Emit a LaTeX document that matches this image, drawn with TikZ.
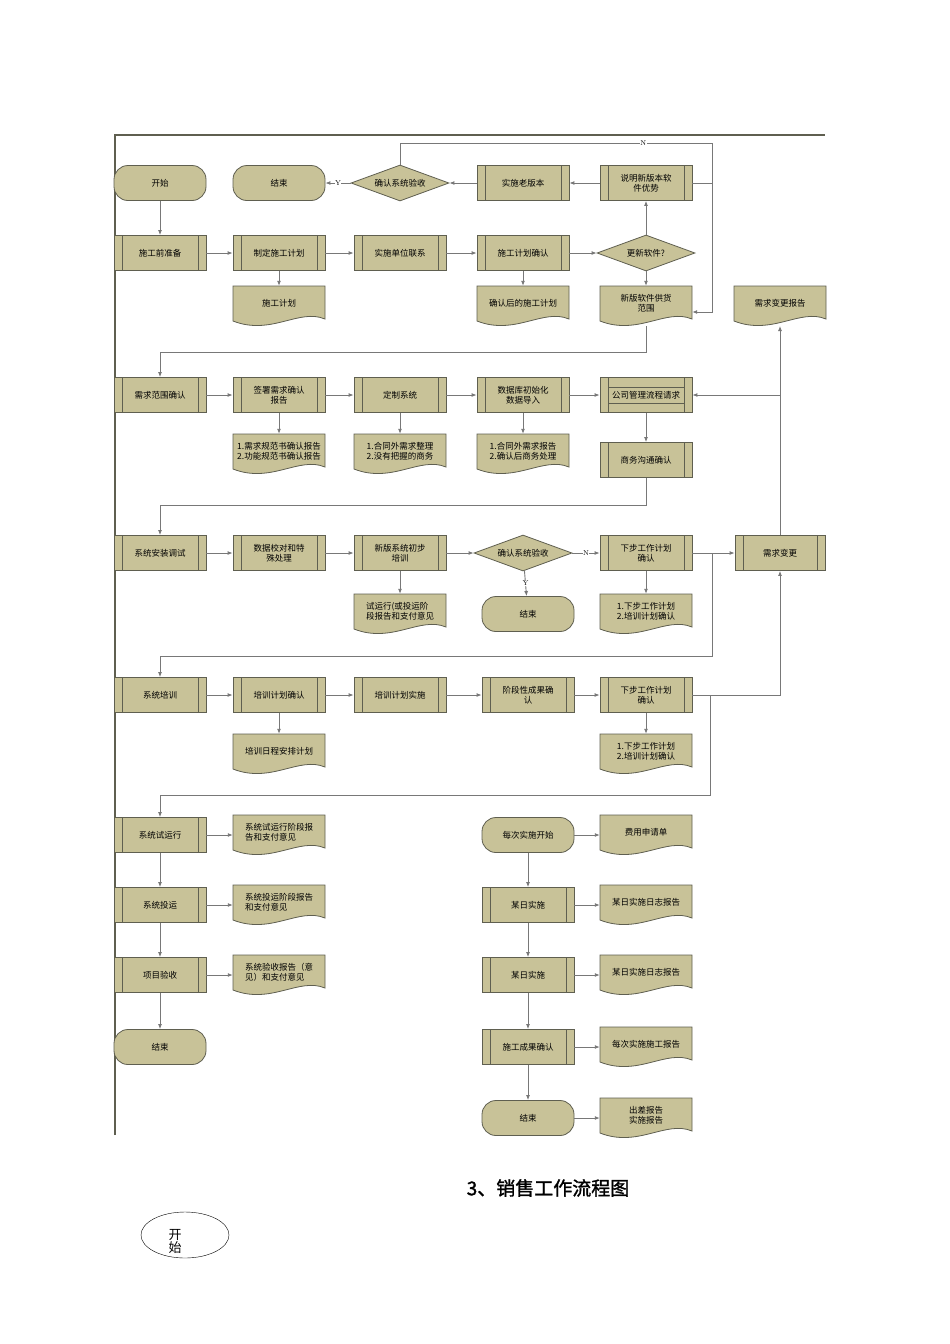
\documentclass[tikz,border=0pt]{standalone}
\usepackage{fontspec}
\newfontfamily\cjk{Noto Sans CJK SC}
\newfontfamily\cjkb{Noto Sans CJK SC}[FakeBold=1.5]
\usetikzlibrary{arrows.meta,shapes.geometric}
\definecolor{olv}{RGB}{200,194,152}
\definecolor{edg}{RGB}{95,95,80}
\definecolor{lin}{RGB}{120,120,120}
\tikzset{
 base/.style={draw=edg,fill=olv,line width=0.8pt,align=center,inner sep=1pt,font=\cjk\fontsize{8.5}{10}\selectfont},
 proc/.style={base,minimum width=92pt,minimum height=35pt,
  path picture={\draw[edg,line width=0.7pt]
   ([xshift=8pt]path picture bounding box.north west)--([xshift=8pt]path picture bounding box.south west)
   ([xshift=-8pt]path picture bounding box.north east)--([xshift=-8pt]path picture bounding box.south east);}},
 term/.style={base,minimum width=92pt,minimum height=35pt,rounded corners=14pt},
 dia/.style={base,diamond,aspect=2.8,minimum width=98pt,minimum height=36pt,inner sep=0pt},
 dtext/.style={align=left,inner sep=1pt,minimum width=92pt,minimum height=34pt,font=\cjk\fontsize{8.5}{10}\selectfont},
 con/.style={draw=lin,line width=0.9pt},
 arr/.style={con,-{Latex[length=5pt,width=4pt]}},
 lab/.style={font=\fontsize{7}{8}\selectfont,fill=white,inner sep=0.5pt}
}
\newcommand\docu[4]{%
 \filldraw[draw=edg,fill=olv,line width=0.8pt] ({#2-46},{#3-20})--({#2+46},{#3-20})--({#2+46},{#3+13})
  .. controls ({#2+20},{#3+2}) and ({#2-8},{#3+30}) .. ({#2-46},{#3+15})--cycle;
 \node[dtext] (#1) at (#2,{#3-3}) {#4};}
\begin{document}
\begin{tikzpicture}[x=1pt,y=-1pt]
\useasboundingbox[fill=white] (0,0) rectangle (950,1344);
\draw[edg,line width=1.2pt] (115,1135)--(115,135)--(825,135);
% row1
\node[term] (n11) at (160,183) {开始};
\node[term] (n12) at (279,183) {结束};
\node[dia] (d1) at (400,183) {确认系统验收};
\node[proc] (n14) at (523,183) {实施老版本};
\node[proc] (n15) at (646,183) {说明新版本软\\件优势};
% row2
\node[proc] (n21) at (160,253) {施工前准备};
\node[proc] (n22) at (279,253) {制定施工计划};
\node[proc] (n23) at (400,253) {实施单位联系};
\node[proc] (n24) at (523,253) {施工计划确认};
\node[dia] (d2) at (646,253) {更新软件?};
\docu{p22}{279}{306}{\hfil 施工计划\hfil}
\docu{p24}{523}{306}{\hfil 确认后的施工计划\hfil}
\docu{p25}{646}{306}{\hfil 新版软件供货\hfil\\\hfil 范围\hfil}
\docu{p26}{780}{306}{需求变更报告}
% row3
\node[proc] (n31) at (160,395) {需求范围确认};
\node[proc] (n32) at (279,395) {签署需求确认\\报告};
\node[proc] (n33) at (400,395) {定制系统};
\node[proc] (n34) at (523,395) {数据库初始化\\数据导入};
\node[proc] (n35) at (646,395) {公司管理流程请求};
\draw[edg,line width=0.7pt] (608,387)--(684,387) (608,403)--(684,403);
\docu{p32}{279}{454}{1.需求规范书确认报告\\2.功能规范书确认报告}
\docu{p33}{400}{454}{1.合同外需求整理\\2.没有把握的商务}
\docu{p34}{523}{454}{1.合同外需求报告\\2.确认后商务处理}
\node[proc] (n36) at (646,460) {商务沟通确认};
% row4
\node[proc] (n41) at (160,553) {系统安装调试};
\node[proc] (n42) at (279,553) {数据校对和特\\殊处理};
\node[proc] (n43) at (400,553) {新版系统初步\\培训};
\node[dia] (d4) at (523,553) {确认系统验收};
\node[proc] (n45) at (646,553) {下步工作计划\\确认};
\node[proc,minimum width=90pt] (n46) at (780,553) {需求变更};
\docu{p43}{400}{614}{试运行(或投运阶\\段报告和支付意见}
\node[term] (e4) at (528,614) {结束};
\docu{p45}{646}{614}{1.下步工作计划\\2.培训计划确认}
% row5
\node[proc] (n51) at (160,695) {系统培训};
\node[proc] (n52) at (279,695) {培训计划确认};
\node[proc] (n53) at (400,695) {培训计划实施};
\node[proc] (n54) at (528,695) {阶段性成果确\\认};
\node[proc] (n55) at (646,695) {下步工作计划\\确认};
\docu{p52}{279}{754}{培训日程安排计划}
\docu{p55}{646}{754}{1.下步工作计划\\2.培训计划确认}
% bottom left
\node[proc] (n61) at (160,835) {系统试运行};
\node[proc] (n62) at (160,905) {系统投运};
\node[proc] (n63) at (160,975) {项目验收};
\node[term] (n64) at (160,1047) {结束};
\docu{q61}{279}{835}{系统试运行阶段报\\告和支付意见}
\docu{q62}{279}{905}{系统投运阶段报告\\和支付意见}
\docu{q63}{279}{975}{系统验收报告（意\\见）和支付意见}
% bottom right
\node[term] (m1) at (528,835) {每次实施开始};
\node[proc] (m2) at (528,905) {某日实施};
\node[proc] (m3) at (528,975) {某日实施};
\node[proc] (m4) at (528,1047) {施工成果确认};
\node[term] (m5) at (528,1118) {结束};
\docu{r1}{646}{835}{\hfil 费用申请单\hfil}
\docu{r2}{646}{905}{某日实施日志报告}
\docu{r3}{646}{975}{某日实施日志报告}
\docu{r4}{646}{1047}{每次实施施工报告}
\docu{r5}{646}{1118}{出差报告\\实施报告}
% connectors row1/2
\draw[arr] (n15)--(n14);
\draw[arr] (n14)--(d1);
\draw[arr] (d1)--node[lab]{Y}(n12);
\coordinate (jN) at (712,312);
\draw[arr] (d1.north)--(400,143)--node[lab,pos=0.78]{N}(712,143)--(jN)--(p25.east|-jN);
\draw[con] (n15.east)--(712,183);
\draw[arr] (n11)--(n21);
\draw[arr] (n21)--(n22);
\draw[arr] (n22)--(n23);
\draw[arr] (n23)--(n24);
\draw[arr] (n24)--(d2);
\draw[arr] (d2)--(n15);
\draw[arr] (n22)--(p22);
\draw[arr] (n24)--(p24);
\draw[arr] (d2)--(p25);
\draw[arr] (646,326)--(646,352)--(160,352)--(n31);
% row3
\draw[arr] (n31)--(n32);
\draw[arr] (n32)--(n33);
\draw[arr] (n33)--(n34);
\draw[arr] (n34)--(n35);
\coordinate (j3) at (780,395);
\draw[arr] (j3)--(n35);
\draw[arr] (n32)--(p32);
\draw[arr] (n33)--(p33);
\draw[arr] (n34)--(p34);
\draw[arr] (n35)--(n36);
\draw[arr] (n36.south)--(646,505)--(160,505)--(n41);
% row4
\draw[arr] (n41)--(n42);
\draw[arr] (n42)--(n43);
\draw[arr] (n43)--(d4);
\draw[arr] (d4)--node[lab]{N}(n45);
\draw[arr] (d4)--node[lab]{Y}(e4);
\draw[arr] (n43)--(p43);
\draw[arr] (n45)--(p45);
\draw[arr] (n45)--(n46);
\draw[arr] (n46)--(780,326);
\draw[arr] (712,553)--(712,656)--(160,656)--(n51);
% row5
\draw[arr] (n51)--(n52);
\draw[arr] (n52)--(n53);
\draw[arr] (n53)--(n54);
\draw[arr] (n54)--(n55);
\draw[arr] (n52)--(p52);
\draw[arr] (n55)--(p55);
\draw[arr] (n55.east)--(780,695)--(n46);
\draw[arr] (710,695)--(710,795)--(160,795)--(n61);
% bottom
\draw[arr] (n61)--(n62);
\draw[arr] (n62)--(n63);
\draw[arr] (n63)--(n64);
\draw[arr] (n61)--(q61.west|-n61);
\draw[arr] (n62)--(q62.west|-n62);
\draw[arr] (n63)--(q63.west|-n63);
\draw[arr] (m1)--(m2);
\draw[arr] (m2)--(m3);
\draw[arr] (m3)--(m4);
\draw[arr] (m4)--(m5);
\draw[arr] (m1)--(r1.west|-m1);
\draw[arr] (m2)--(r2.west|-m2);
\draw[arr] (m3)--(r3.west|-m3);
\draw[arr] (m4)--(r4.west|-m4);
\draw[arr] (m5)--(r5.west|-m5);
% title
\node[font=\cjkb\fontsize{19}{22}\selectfont] (title) at (548,1188) {3、销售工作流程图};
\node[draw,ellipse,minimum width=88pt,minimum height=46pt,inner sep=0pt] (st) at (185,1235) {};
\node[align=left,inner sep=0pt,font=\cjk\fontsize{13}{13}\selectfont] (stt) at (175,1241) {开\\始};
\end{tikzpicture}
\end{document}
